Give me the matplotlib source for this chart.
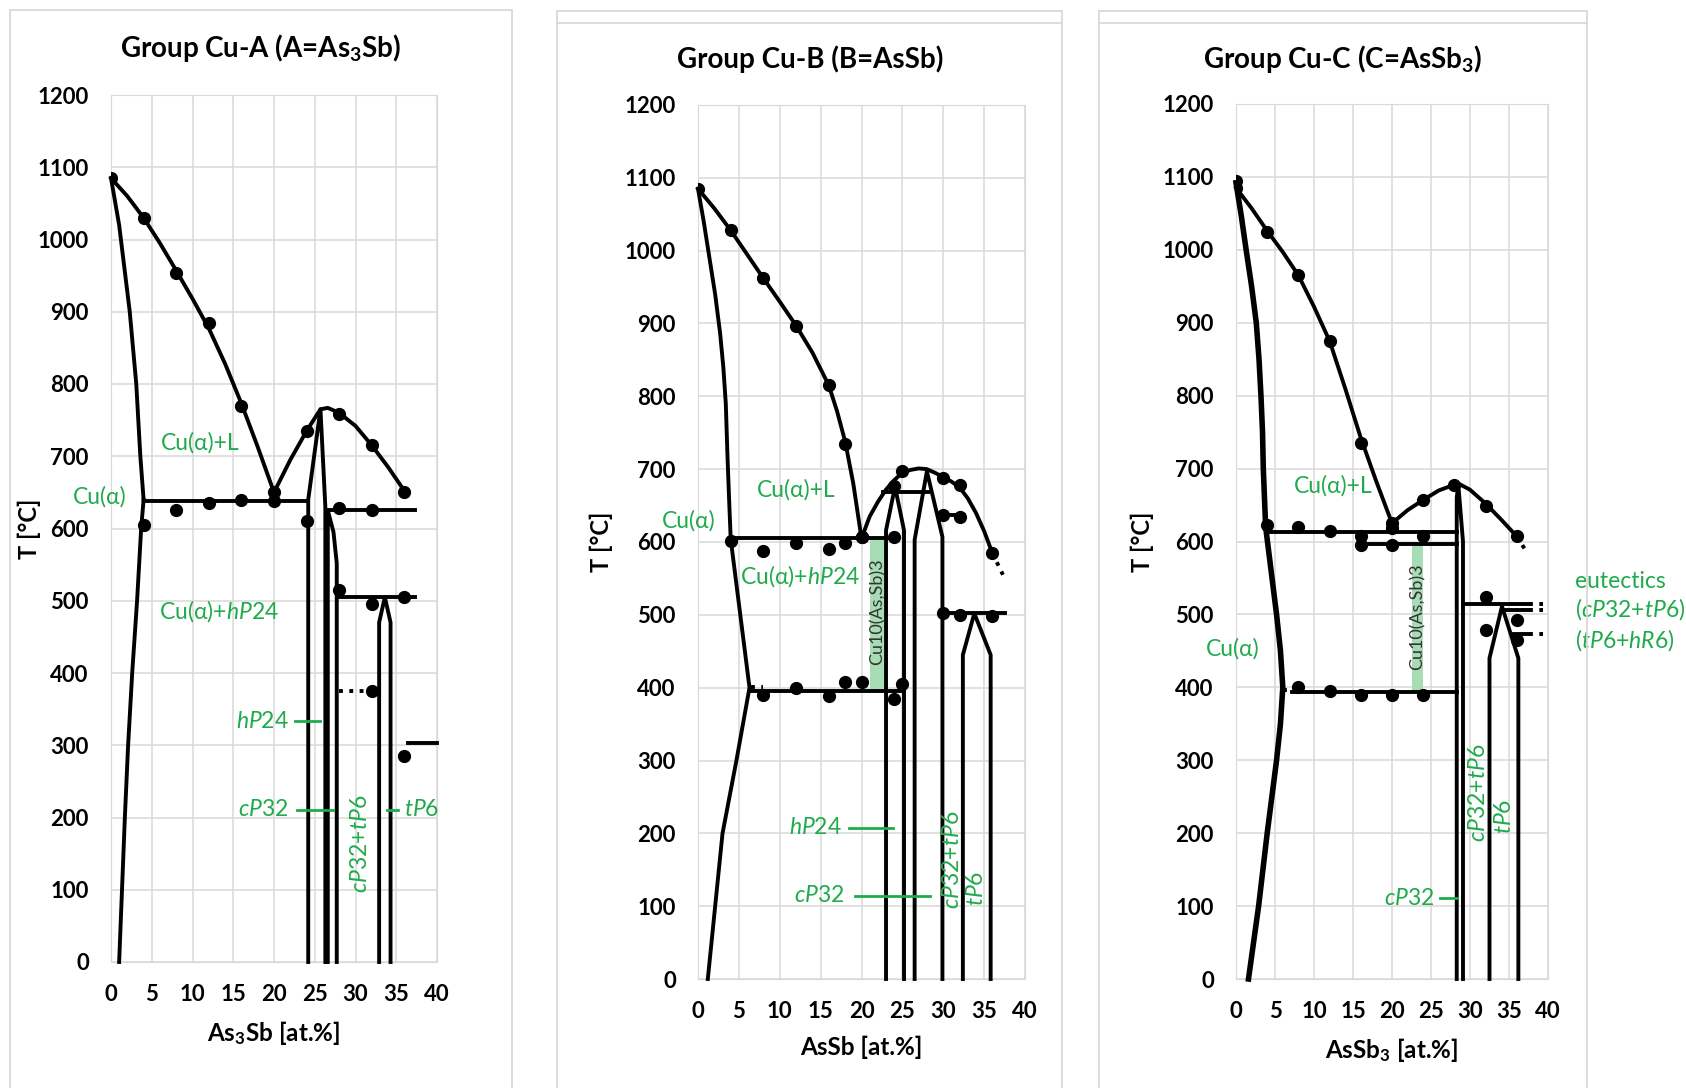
import matplotlib
matplotlib.use("Agg")
import matplotlib.pyplot as plt
from matplotlib.patches import Rectangle

plt.rcParams['font.family'] = ['Lato', 'DejaVu Sans']
plt.rcParams['mathtext.fontset'] = 'custom'
plt.rcParams['mathtext.rm'] = 'Lato'
plt.rcParams['mathtext.it'] = 'Lato:italic'
plt.rcParams['mathtext.bf'] = 'Lato:bold'

GREEN = '#1fab4b'
GRID = '#d9d9d9'

# -------------------------------
# PANEL A  (A = As3Sb)
# -------------------------------
a_liq_left = [(0, 1085), (2, 1060), (4, 1030), (6, 995), (8, 957), (10, 918), (12, 877),
              (14, 828), (16, 773), (18, 713), (20, 650)]
a_solidus = [(0, 1085), (1, 1020), (2.3, 900), (3.1, 800), (3.6, 700), (4, 640)]
a_solvus = [(4, 640), (3.7, 600), (3.2, 500), (2.6, 400), (2.1, 300), (1.7, 200), (1.35, 100), (1, 0)]
a_eutectic = [(4, 638), (24.2, 638)]
a_liq_right = [(20, 650), (22, 695), (24, 735), (25.7, 765), (26.6, 767), (28, 760), (30, 742),
               (32, 715), (34, 685), (36, 652)]
a_hp24 = [(24.2, 0), (24.2, 640), (25.7, 765), (26.3, 630), (26.3, 0)]
a_cp32 = [(26.6, 0), (26.6, 625), (27.3, 595), (27.7, 552), (27.7, 0)]
a_line625 = [(26.6, 625), (37.3, 625)]
a_line505 = [(27.7, 505), (37.3, 505)]
a_tp6 = [(32.9, 0), (32.9, 470), (33.6, 505), (34.3, 470), (34.3, 0)]
a_line303 = [(36.5, 303), (40, 303)]
a_dotted = [[(28, 375), (31.6, 375)], [(35.2, 285), (36, 285)]]
a_pts_x = [0, 4, 8, 12, 16, 20, 24, 28, 32, 36, 4, 8, 12, 16, 20, 24, 28, 32, 28, 32, 36, 32, 36]
a_pts_t = [1085, 1030, 953, 885, 770, 650, 735, 758, 715, 650, 605, 625, 635, 640, 638, 610,
           628, 625, 515, 495, 505, 375, 285]

# -------------------------------
# PANEL B  (B = AsSb)
# -------------------------------
b_liq_left = [(0, 1085), (2, 1058), (4, 1028), (6, 995), (8, 962), (10, 930), (12, 897),
              (14, 860), (16, 815), (17, 780), (18, 738), (19, 680), (20, 605)]
b_solidus = [(0, 1085), (0.7, 1040), (1.4, 990), (2.1, 940), (2.7, 887), (3.1, 840), (3.4, 790),
             (3.6, 720), (3.8, 660), (4, 604)]
b_solvus = [(4, 604), (6.3, 400), (4.7, 300), (3.0, 200), (2.1, 100), (1.2, 0)]
b_eutectic = [(4, 605), (24.3, 605)]
b_line395 = [(6.5, 396), (25.2, 396)]
b_liq_right = [(20, 605), (21, 635), (22, 655), (23, 672), (24, 685), (25, 695), (26, 699),
               (27, 701), (28, 700), (29, 695), (30, 689), (31, 683), (32, 675), (33, 660),
               (34, 640), (35, 615), (36, 585)]
b_hp24 = [(23.0, 0), (23.0, 616), (24.1, 676), (25.2, 616), (25.2, 0)]
b_line668 = [(22.6, 668), (28.1, 668)]
b_cp32 = [(26.5, 0), (26.5, 603), (28.0, 697), (29.9, 607), (29.9, 0)]
b_line637 = [(29.9, 637), (32.5, 637)]
b_line502 = [(29.9, 502), (37.5, 502)]
b_tp6 = [(32.4, 0), (32.4, 445), (33.8, 502), (35.8, 445), (35.8, 0)]
b_dotted = [[(6.5, 401), (8, 401)], [(36, 585), (37.3, 555)]]
b_band = (21.0, 22.8, 396, 605)
b_pts_x = [0, 4, 8, 12, 16, 18, 20, 24, 25, 30, 32, 36, 4, 8, 12, 16, 18, 20, 24,
           30, 32, 8, 12, 16, 18, 20, 24, 25, 30, 32, 36]
b_pts_t = [1085, 1028, 962, 897, 815, 735, 607, 677, 697, 688, 678, 585, 602, 588, 598, 590,
           598, 607, 607, 637, 635, 390, 400, 388, 408, 408, 385, 405, 502, 500, 498]

# -------------------------------
# PANEL C  (C = AsSb3)
# -------------------------------
c_liq_left = [(0, 1085), (2, 1057), (4, 1026), (6, 997), (8, 965), (10, 922), (12, 875),
              (14, 810), (16, 742), (18, 682), (20, 625)]
c_solidus = [(0, 1092), (0.7, 1045), (1.3, 1000), (2.0, 950), (2.6, 900), (2.95, 850), (3.2, 800),
             (3.4, 750), (3.5, 700), (3.8, 620)]
c_solvus = [(3.8, 620), (4.5, 560), (5.2, 500), (5.7, 450), (6.0, 400), (5.7, 350), (5.2, 300),
            (4.0, 200), (2.9, 100), (1.6, 0)]
c_eutectic = [(3.8, 613), (28.3, 613)]
c_line597 = [(16, 597), (28.3, 597)]
c_line393 = [(7.2, 393), (28.3, 393)]
c_liq_right = [(20, 625), (22, 643), (24, 657), (26, 670), (28, 678), (28.6, 679), (30, 671),
               (32, 652), (34, 630), (36, 607)]
c_cp32 = [(28.3, 0), (28.3, 660), (28.5, 678), (29.1, 600), (29.1, 0)]
c_line514 = [(29.1, 514), (37.6, 514)]
c_line506 = [(34.4, 506), (37.6, 506)]
c_line473 = [(35.6, 473), (37.6, 473)]
c_tp6 = [(32.5, 0), (32.5, 440), (34.1, 511), (36.2, 440), (36.2, 0)]
c_dotted = [[(6.0, 396), (7.2, 396)], [(36, 607), (37.3, 585)], [(37.6, 514), (39.3, 514)],
            [(37.6, 506), (39.3, 506)], [(37.6, 473), (39.3, 473)]]
c_band = (22.5, 24.0, 393, 597)
c_pts_x = [0, 0, 4, 8, 12, 16, 20, 24, 28, 32, 36, 4, 8, 12, 16, 20, 24, 16, 20,
           8, 12, 16, 20, 24, 32, 32, 36, 36]
c_pts_t = [1085, 1095, 1024, 965, 875, 735, 625, 657, 678, 648, 607, 622, 620, 615, 608, 618,
           608, 595, 595, 400, 395, 390, 390, 390, 524, 479, 492, 465]


def curve(ax, pts, lw=2.8, ls='-', color='black'):
    xs = [p[0] for p in pts]
    ys = [p[1] for p in pts]
    ax.plot(xs, ys, color=color, lw=lw, ls=ls, zorder=3, clip_on=False)


def label(ax, x, y, s, **kw):
    kw.setdefault('ha', 'center')
    kw.setdefault('va', 'center')
    kw.setdefault('fontsize', 16.5)
    kw.setdefault('color', GREEN)
    ax.text(x, y, s, **kw)


def setup(ax, xlabel, ylab_x, xlab_y):
    ax.set_xlim(0, 40)
    ax.set_ylim(0, 1200)
    ax.set_xticks(range(0, 41, 5))
    ax.set_yticks(range(0, 1201, 100))
    ax.grid(color=GRID, lw=1.1)
    ax.set_axisbelow(True)
    for sp in ax.spines.values():
        sp.set_color(GRID)
    ax.tick_params(length=0, labelsize=16)
    ax.tick_params(axis='y', pad=16)
    ax.tick_params(axis='x', pad=16)
    for t in ax.get_xticklabels() + ax.get_yticklabels():
        t.set_fontweight('bold')
    ax.set_xlabel(xlabel, fontsize=17.5, fontweight='bold')
    ax.set_ylabel('T [°C]', fontsize=17, fontweight='bold')
    ax.xaxis.set_label_coords(0.5, xlab_y)
    ax.yaxis.set_label_coords(ylab_x, 0.5)


fig = plt.figure(figsize=(16.86, 10.88), dpi=100)

# panel frames (pixel coords of the reference)
for x0, x1, top, extra in [(10, 512, 10, False), (557, 1062, 11, True), (1099, 1587, 11, True)]:
    fig.add_artist(Rectangle((x0 / 1686, -0.02), (x1 - x0) / 1686, 1.02 - top / 1088,
                             transform=fig.transFigure, fill=False, ec=GRID, lw=1.3))
    if extra:
        fig.add_artist(plt.Line2D([x0 / 1686, x1 / 1686], [1 - 23 / 1088, 1 - 23 / 1088],
                                  transform=fig.transFigure, color=GRID, lw=1.3))

axA = fig.add_axes([111 / 1686, 1 - 962 / 1088, 326 / 1686, 867 / 1088])
axB = fig.add_axes([698 / 1686, 1 - 979 / 1088, 327 / 1686, 874 / 1088])
axC = fig.add_axes([1236 / 1686, 1 - 979 / 1088, 312 / 1686, 875 / 1088])

fig.text(261 / 1686, 1 - 48 / 1088, r'Group Cu-A (A=As$_{\mathbf{3}}$Sb)', ha='center', va='center',
         fontsize=20, fontweight='bold')
fig.text(810 / 1686, 1 - 59 / 1088, 'Group Cu-B (B=AsSb)', ha='center', va='center',
         fontsize=20, fontweight='bold')
fig.text(1343 / 1686, 1 - 59 / 1088, r'Group Cu-C (C=AsSb$_{\mathbf{3}}$)', ha='center', va='center',
         fontsize=20, fontweight='bold')

setup(axA, r'As$_{\mathbf{3}}$Sb [at.%]', -0.215, -0.066)
setup(axB, 'AsSb [at.%]', -0.26, -0.065)
setup(axC, r'AsSb$_{\mathbf{3}}$ [at.%]', -0.263, -0.065)

# ---- panel A ----
for pts in [a_liq_left, a_solidus, a_solvus, a_eutectic, a_liq_right, a_hp24, a_cp32,
            a_line625, a_line505, a_tp6, a_line303]:
    curve(axA, pts)
for pts in a_dotted:
    curve(axA, pts, ls=':')
axA.plot(a_pts_x, a_pts_t, 'o', color='black', ms=8.5, zorder=4)
label(axA, 11, 718, 'Cu(α)+L')
label(axA, -1.4, 644, 'Cu(α)')
label(axA, 13.2, 486, r'Cu(α)+$\mathit{hP}$24')
label(axA, 21.8, 333, r'$\mathit{hP}$24', ha='right')
label(axA, 21.8, 211, r'$\mathit{cP}$32', ha='right')
label(axA, 30.6, 164, r'$\mathit{cP}$32+$\mathit{tP}$6', rotation=90)
label(axA, 35.9, 211, r'$\mathit{tP}$6', ha='left')
curve(axA, [(22.6, 333), (25.6, 333)], color=GREEN, lw=2)
curve(axA, [(22.8, 211), (27.3, 211)], color=GREEN, lw=2)
curve(axA, [(33.9, 211), (35.2, 211)], color=GREEN, lw=2)

# ---- panel B ----
x0, x1, t0, t1 = b_band
axB.fill_between([x0, x1], t0, t1, color='#a8dcb5', zorder=2, lw=0)
for pts in [b_liq_left, b_solidus, b_solvus, b_eutectic, b_line395, b_liq_right, b_hp24,
            b_line668, b_cp32, b_line637, b_line502, b_tp6]:
    curve(axB, pts)
for pts in b_dotted:
    curve(axB, pts, ls=':')
axB.plot(b_pts_x, b_pts_t, 'o', color='black', ms=8.5, zorder=4)
label(axB, 12, 672, 'Cu(α)+L')
label(axB, -1.2, 629, 'Cu(α)')
label(axB, 12.5, 553, r'Cu(α)+$\mathit{hP}$24')
label(axB, 17.6, 208, r'$\mathit{hP}$24', ha='right')
label(axB, 17.9, 114, r'$\mathit{cP}$32', ha='right')
label(axB, 31.1, 164, r'$\mathit{cP}$32+$\mathit{tP}$6', rotation=90)
label(axB, 34.1, 124, r'$\mathit{tP}$6', rotation=90)
label(axB, 22.0, 505, 'Cu10(As,Sb)3', rotation=90, color='#333333', fontsize=13)
curve(axB, [(18.5, 208), (23.8, 208)], color=GREEN, lw=2)
curve(axB, [(19.2, 114), (28.4, 114)], color=GREEN, lw=2)

# ---- panel C ----
x0, x1, t0, t1 = c_band
axC.fill_between([x0, x1], t0, t1, color='#a8dcb5', zorder=2, lw=0)
for pts in [c_liq_left, c_eutectic, c_line597, c_line393, c_liq_right, c_cp32,
            c_line514, c_line506, c_line473, c_tp6]:
    curve(axC, pts)
curve(axC, c_solidus, lw=4)
curve(axC, c_solvus, lw=4)
for pts in c_dotted:
    curve(axC, pts, ls=':')
axC.plot(c_pts_x, c_pts_t, 'o', color='black', ms=8.5, zorder=4)
label(axC, 12.4, 677, 'Cu(α)+L')
label(axC, -0.4, 453, 'Cu(α)')
label(axC, 25.5, 111, r'$\mathit{cP}$32', ha='right')
label(axC, 31.1, 255, r'$\mathit{cP}$32+$\mathit{tP}$6', rotation=90)
label(axC, 34.4, 223, r'$\mathit{tP}$6', rotation=90)
label(axC, 23.25, 497, 'Cu10(As,Sb)3', rotation=90, color='#333333', fontsize=13)
label(axC, 43.5, 545, 'eutectics', ha='left')
label(axC, 43.5, 507, r'($\mathit{cP}$32+$\mathit{tP}$6)', ha='left')
label(axC, 43.5, 465, r'($\mathit{tP}$6+$\mathit{hR}$6)', ha='left')
curve(axC, [(26.2, 111), (28.3, 111)], color=GREEN, lw=2)

fig.savefig('out.png', dpi=100)
